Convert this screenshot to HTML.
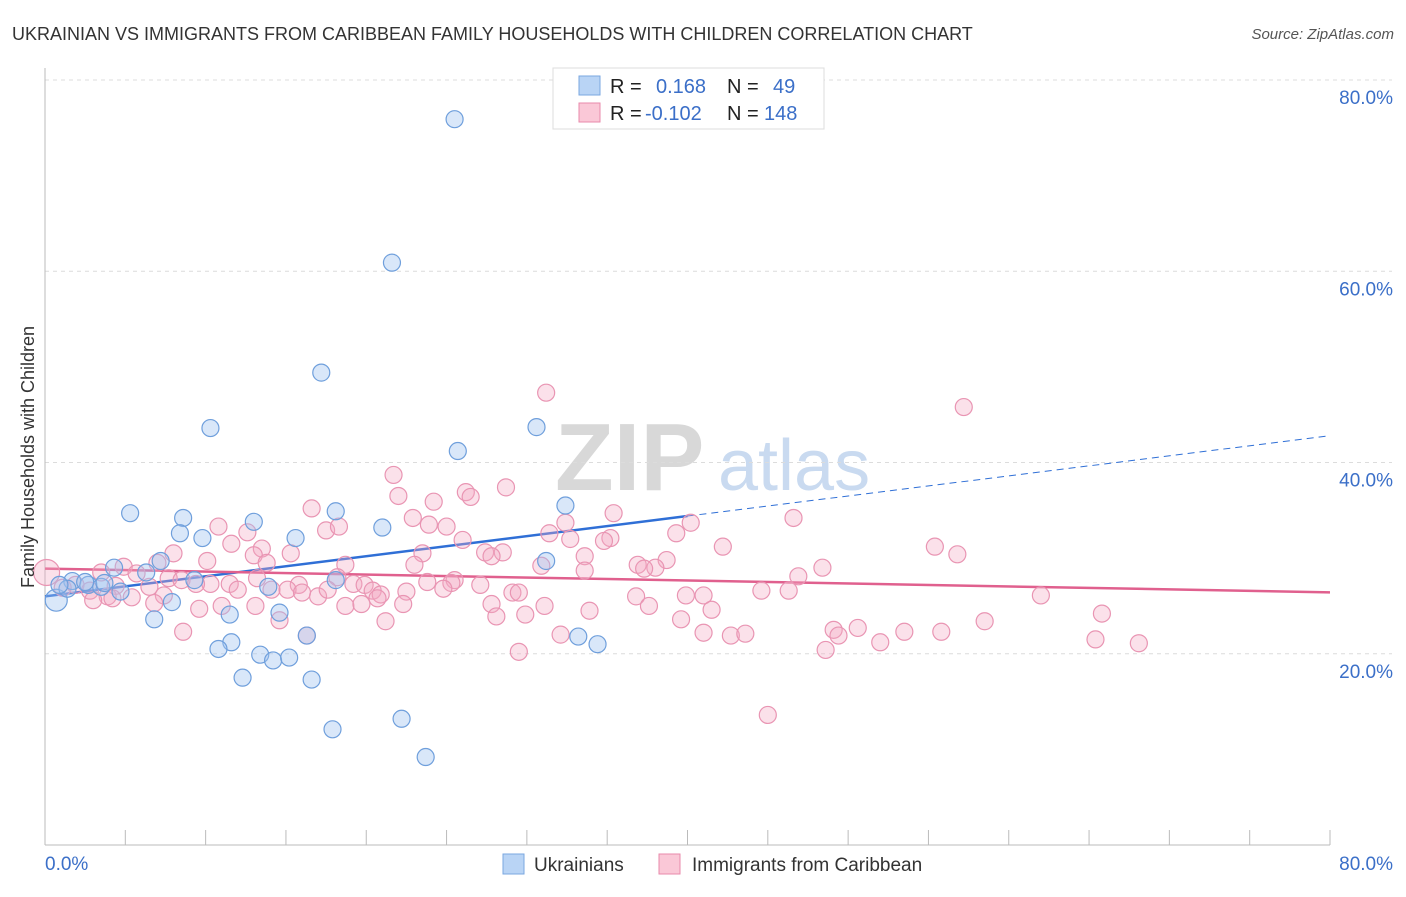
<!DOCTYPE html>
<html><head><meta charset="utf-8"><style>
body{margin:0;background:#fff;font-family:"Liberation Sans",sans-serif;}
svg text{font-family:"Liberation Sans",sans-serif;}
</style></head><body>
<svg id="chart" width="1406" height="892" viewBox="0 0 1406 892" xmlns="http://www.w3.org/2000/svg">
<text x="12" y="40" font-size="18" fill="#333">UKRAINIAN VS IMMIGRANTS FROM CARIBBEAN FAMILY HOUSEHOLDS WITH CHILDREN CORRELATION CHART</text>
<text x="1394" y="39" font-size="15" fill="#555" text-anchor="end" font-style="italic">Source: ZipAtlas.com</text>
<g>
<text x="555" y="490" font-size="96" fill="#d8d8d8" font-family="Liberation Serif, serif" font-weight="bold">ZIP</text>
<text x="718" y="490" font-size="72" fill="#c9daf0">atlas</text>
</g>
<g id="grid"></g><g id="axes"></g><g id="lines"></g><g id="pts"></g>
<text transform="translate(34,457) rotate(-90)" font-size="18" fill="#333" text-anchor="middle">Family Households with Children</text>
<g>
<rect x="553" y="68" width="271" height="61" fill="#fff" stroke="#ddd"/>
<rect x="579" y="76" width="21" height="19" fill="#b9d4f5" stroke="#7aa7e0"/>
<rect x="579" y="103" width="21" height="19" fill="#fac8d7" stroke="#e88aab"/>
<text x="610" y="93" font-size="20" fill="#222">R =</text>
<text x="656" y="93" font-size="20" fill="#3b6fc8">0.168</text>
<text x="727" y="93" font-size="20" fill="#222">N =</text>
<text x="773" y="93" font-size="20" fill="#3b6fc8">49</text>
<text x="610" y="120" font-size="20" fill="#222">R =</text>
<text x="645" y="120" font-size="20" fill="#3b6fc8">-0.102</text>
<text x="727" y="120" font-size="20" fill="#222">N =</text>
<text x="764" y="120" font-size="20" fill="#3b6fc8">148</text>
</g>
<g>
<rect x="503" y="854" width="21" height="20" fill="#b9d4f5" stroke="#7aa7e0"/>
<text x="534" y="871" font-size="19" fill="#333">Ukrainians</text>
<rect x="659" y="854" width="21" height="20" fill="#fac8d7" stroke="#e88aab"/>
<text x="692" y="871" font-size="19" fill="#333">Immigrants from Caribbean</text>
</g>
</svg>
<script>
const yTicks=[20,40,60,80];
const yTickLabels=["20.0%","40.0%","60.0%","80.0%"];
const xTicks=[0,10,20,30,40,50,60,70,80];
const xEndLabels=["0.0%","80.0%"];
const ukrX=[25.5,21.6,17.2,10.3,30.6,25.7,5.3,8.6,18.1,32.4,13.0,21.0,8.4,15.6,9.8,31.2,7.2,4.3,6.3,18.1,9.3,1.7,2.7,3.5,0.7,1.4,4.7,13.9,7.9,14.6,6.8,11.5,11.6,16.3,10.8,13.4,14.2,15.2,33.2,34.4,12.3,16.6,17.9,22.2,23.7,0.9,2.5,3.7];
const ukrY=[75.9,60.9,49.4,43.6,43.7,41.2,34.7,34.2,34.9,35.5,33.8,33.2,32.6,32.1,32.1,29.7,29.7,29.0,28.5,27.7,27.7,27.6,27.2,27.0,25.6,26.8,26.5,27.0,25.4,24.3,23.6,24.1,21.2,21.9,20.5,19.9,19.3,19.6,21.8,21.0,17.5,17.3,12.1,13.2,9.2,27.2,27.5,27.4];
const carX=[31.2,57.2,21.7,28.7,26.2,26.5,22.0,24.2,16.6,35.4,46.6,22.9,32.4,23.9,40.2,25.0,10.8,17.5,18.3,39.3,31.4,12.6,35.2,34.8,32.7,26.0,11.6,55.4,42.2,13.5,56.8,15.3,8.0,13.0,28.5,27.4,33.6,23.5,27.8,7.0,13.8,38.7,30.9,23.0,18.7,4.9,10.1,3.5,5.7,48.4,38.0,36.9,37.3,33.6,46.9,7.7,8.5,18.2,19.2,19.9,25.5,23.8,25.3,27.1,10.3,13.2,15.8,11.5,9.4,6.5,4.4,1.9,1.1,2.8,3.9,5.4,7.4,12.0,14.1,15.1,16.0,17.0,17.6,20.4,20.9,22.5,24.8,29.1,29.5,36.8,39.9,41.0,44.6,46.3,62.0,3.0,4.2,6.8,11.0,9.6,13.1,18.7,19.7,20.7,22.3,27.8,31.1,33.9,37.6,41.5,65.8,14.6,21.2,28.1,29.9,39.6,49.1,50.6,53.5,8.6,16.3,32.1,41.0,42.7,43.6,49.4,52.0,55.8,58.5,65.4,68.1,29.5,48.6,45.0,0.1];
const carY=[47.3,45.8,38.7,37.4,36.9,36.4,36.5,35.9,35.2,34.7,34.2,34.2,33.7,33.5,33.7,33.3,33.3,32.9,33.3,32.6,32.6,32.7,32.1,31.8,32.0,31.9,31.5,31.2,31.2,31.0,30.4,30.5,30.5,30.3,30.6,30.6,30.2,30.5,30.2,29.5,29.5,29.8,29.2,29.3,29.3,29.1,29.7,28.5,28.4,29.0,29.0,29.3,28.9,28.7,28.1,27.9,27.7,28.0,27.3,27.2,27.7,27.5,27.4,27.2,27.3,27.9,27.2,27.3,27.3,27.0,27.1,27.2,26.9,26.6,26.0,25.9,26.1,26.7,26.7,26.7,26.4,26.0,26.7,26.6,26.2,26.5,26.8,26.4,26.4,26.0,26.1,26.1,26.6,26.6,26.1,25.6,25.8,25.3,25.0,24.7,25.0,25.0,25.2,25.8,25.2,25.2,25.0,24.5,25.0,24.6,24.2,23.5,23.4,23.9,24.1,23.6,22.5,22.7,22.3,22.3,21.9,22.0,22.2,21.9,22.1,21.9,21.2,22.3,23.4,21.5,21.1,20.2,20.4,13.6,28.5];
const ukrTrend=[26.0,0.21];
const carTrend=[28.9,-0.031];
const NS="http://www.w3.org/2000/svg";
const X0=45,X1=1330,Y0=845,Y1=80;
const sx=v=>X0+(X1-X0)*v/80;
const sy=v=>Y0-(Y0-Y1)*v/80;
function mk(t,a,p){const e=document.createElementNS(NS,t);for(const k in a)e.setAttribute(k,a[k]);p.appendChild(e);return e;}
const grid=document.getElementById('grid'),axes=document.getElementById('axes'),lines=document.getElementById('lines'),pts=document.getElementById('pts');
yTicks.forEach((v,i)=>{
 const l=mk('line',{x1:X0,x2:1392,y1:sy(v),y2:sy(v),stroke:'#dcdcdc','stroke-dasharray':'4,4'},grid);
 
 
 const t=mk('text',{x:1393,y:sy(v)+24,'font-size':19,fill:'#3b6fc8','text-anchor':'end'},grid);
 t.textContent=yTickLabels[i];
 
 
});
const ya=mk('line',{x1:X0,x2:X0,y1:68,y2:Y0,stroke:'#bbb'},axes);


const xa=mk('line',{x1:X0,x2:X1,y1:Y0,y2:Y0,stroke:'#bbb'},axes);


xTicks.forEach(v=>{
 const t=mk('line',{x1:sx(v),x2:sx(v),y1:830,y2:Y0,stroke:'#bbb'},axes);
 
 
});
for(let v=5;v<80;v+=10){const t=mk('line',{x1:sx(v),x2:sx(v),y1:830,y2:Y0,stroke:'#bbb'},axes);
 
 }
const xl0=mk('text',{x:45,y:870,'font-size':19,fill:'#3b6fc8'},axes);xl0.textContent=xEndLabels[0];


const xl1=mk('text',{x:1393,y:870,'font-size':19,fill:'#3b6fc8','text-anchor':'end'},axes);xl1.textContent=xEndLabels[1];


carX.forEach((x,i)=>{
 const r=(i===carX.length-1)?13:8.5;
 const c=mk('circle',{cx:sx(x),cy:sy(carY[i]),r:r,fill:'rgba(244,170,195,0.35)',stroke:'#e995b3','stroke-width':1.2},pts);
 
 
});
ukrX.forEach((x,i)=>{
 const r=(i===24)?11:8.5;
 const c=mk('circle',{cx:sx(x),cy:sy(ukrY[i]),r:r,fill:'rgba(160,196,240,0.4)',stroke:'#6f9fdc','stroke-width':1.2},pts);
 
 
});
const ut=v=>ukrTrend[0]+ukrTrend[1]*v, ct=v=>carTrend[0]+carTrend[1]*v;
const bl=mk('line',{x1:sx(0),y1:sy(ut(0)),x2:sx(40),y2:sy(ut(40)),stroke:'#2f6fd6','stroke-width':2.5},lines);


const bd=mk('line',{x1:sx(40),y1:sy(ut(40)),x2:sx(80),y2:sy(ut(80)),stroke:'#2f6fd6','stroke-width':1,'stroke-dasharray':'7,5'},lines);


const pl=mk('line',{x1:sx(0),y1:sy(ct(0)),x2:sx(80),y2:sy(ct(80)),stroke:'#e0608e','stroke-width':2.5},lines);


</script>
</body></html>
